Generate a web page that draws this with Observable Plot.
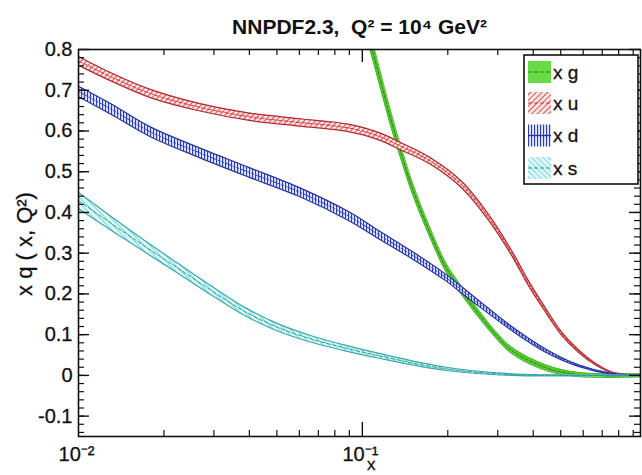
<!DOCTYPE html>
<html><head><meta charset="utf-8">
<script src="https://cdn.jsdelivr.net/npm/d3@7"></script>
<script src="https://cdn.jsdelivr.net/npm/@observablehq/plot@0.6"></script>
<style>
body{margin:0;background:#fff;}
#chart{width:642px;height:475px;}
</style></head><body><div id="chart"></div>
<script>
// ---- data ----
const titleText = "NNPDF2.3,  Q² = 10⁴ GeV²";
const yLabel = "x q ( x, Q²)";
const xLabel = "x";

const gX = [0.08, 0.09, 0.1, 0.1084, 0.1264, 0.1349, 0.150, 0.172, 0.197, 0.22, 0.257, 0.295, 0.336, 0.442, 0.577, 0.955];
const gY = [1.15, 1.0, 0.89, 0.80, 0.626, 0.56, 0.46, 0.355, 0.265, 0.215, 0.151, 0.10, 0.061, 0.019, 0.002, 0.0];
const gErr = [0.024, 0.023, 0.022, 0.021, 0.018, 0.016, 0.014, 0.012, 0.011, 0.010, 0.009, 0.008, 0.008, 0.007, 0.005, 0.004];

const uX = [0.01, 0.013, 0.0179, 0.0268, 0.04, 0.06, 0.0785, 0.09, 0.1, 0.1175, 0.135, 0.172, 0.224, 0.279, 0.336, 0.385, 0.442, 0.503, 0.577, 0.662, 0.754, 0.955];
const uY = [0.772, 0.733, 0.692, 0.658, 0.635, 0.621, 0.613, 0.607, 0.600, 0.584, 0.564, 0.528, 0.468, 0.387, 0.300, 0.226, 0.160, 0.103, 0.060, 0.028, 0.008, 0.0];
const uErr = [0.011, 0.010, 0.010, 0.009, 0.009, 0.009, 0.009, 0.009, 0.009, 0.009, 0.009, 0.008, 0.008, 0.007, 0.006, 0.006, 0.005, 0.004, 0.003, 0.002, 0.001, 0.0005];

const dX = [0.01, 0.013, 0.0179, 0.0268, 0.04, 0.06, 0.09, 0.1144, 0.15, 0.197, 0.22, 0.257, 0.336, 0.442, 0.577, 0.754, 0.955];
const dY = [0.697, 0.654, 0.598, 0.546, 0.498, 0.450, 0.390, 0.345, 0.295, 0.240, 0.214, 0.177, 0.115, 0.061, 0.024, 0.004, 0.0];
const dErr = [0.013, 0.013, 0.012, 0.012, 0.012, 0.011, 0.011, 0.010, 0.009, 0.008, 0.008, 0.007, 0.005, 0.004, 0.002, 0.001, 0.0005];

const sX = [0.01, 0.0131, 0.0172, 0.0224, 0.0293, 0.0385, 0.0503, 0.0656, 0.0862, 0.1144, 0.197, 0.336, 0.577, 0.955];
const sY = [0.429, 0.372, 0.316, 0.263, 0.209, 0.157, 0.118, 0.090, 0.068, 0.048, 0.016, 0.002, 0.0, 0.0];
const sErr = [0.02, 0.017, 0.014, 0.012, 0.011, 0.010, 0.009, 0.008, 0.007, 0.006, 0.004, 0.002, 0.001, 0.0005];

const yMajor = [-0.1, 0, 0.1, 0.2, 0.3, 0.4, 0.5, 0.6, 0.7, 0.8];
const yMajorLabels = ["-0.1", "0", "0.1", "0.2", "0.3", "0.4", "0.5", "0.6", "0.7", "0.8"];
const yMinor = d3.range(-0.14, 0.8, 0.02).map(v => +v.toFixed(2));
const xMinor = [0.02, 0.03, 0.04, 0.05, 0.06, 0.07, 0.08, 0.09, 0.2, 0.3, 0.4, 0.5, 0.6, 0.7, 0.8, 0.9];
const xMajor = [0.1];
const xLabelTicks = [0.01, 0.1];
const xLabelTexts = ["10⁻²", "10⁻¹"];

const legendNames = ["x g", "x u", "x d", "x s"];

// ---- build ----
const rows = (xs, ys, es) => xs.map((x, i) => ({x, y: ys[i], lo: ys[i] - es[i], hi: ys[i] + es[i]}));
const G = rows(gX, gY, gErr), U = rows(uX, uY, uErr), D = rows(dX, dY, dErr), S = rows(sX, sY, sErr);

const W = 642, H = 475, mL = 78, mR = 2, mT = 49, mB = 39;
const iW = W - mL - mR, iH = H - mT - mB;
const curve = "catmull-rom";
const font = "'Liberation Sans', Arial, Helvetica, sans-serif";

function band(data, fill, edge, center, dash, ew) {
  return [
    Plot.areaY(data, {x: "x", y1: "lo", y2: "hi", fill, curve, clip: true}),
    Plot.lineY(data, {x: "x", y: "lo", stroke: edge, strokeWidth: ew, curve, clip: true}),
    Plot.lineY(data, {x: "x", y: "hi", stroke: edge, strokeWidth: ew, curve, clip: true}),
    Plot.lineY(data, {x: "x", y: "y", stroke: center, strokeWidth: 1, strokeDasharray: dash, curve, clip: true})
  ];
}

const svg = Plot.plot({
  width: W, height: H,
  marginLeft: mL, marginRight: mR, marginTop: mT, marginBottom: mB,
  x: {type: "log", domain: [0.01, 0.955], axis: null},
  y: {domain: [-0.15, 0.8], axis: null},
  style: {fontFamily: font, background: "white", color: "#111"},
  marks: [
    ...band(G, "#56cc30", "#48b828", "#2e7d1a", "3,2", 1),
    ...band(U, "url(#pat-u)", "#b3262b", "#d23a3a", "4,2", 1.2),
    ...band(D, "url(#pat-d)", "#2233a6", "#2a3cc0", "2,2", 1.2),
    ...band(S, "url(#pat-s)", "#3aa9aa", "#2a9a9a", "4,2", 1.2),
    // ticks
    Plot.tickY(yMajor, {y: d => d, insetRight: iW - 11, stroke: "#111", strokeWidth: 1.4}),
    Plot.tickY(yMinor, {y: d => d, insetRight: iW - 6, stroke: "#111", strokeWidth: 1.2}),
    Plot.tickY(yMajor, {y: d => d, insetLeft: iW - 11, stroke: "#111", strokeWidth: 1.4}),
    Plot.tickY(yMinor, {y: d => d, insetLeft: iW - 6, stroke: "#111", strokeWidth: 1.2}),
    Plot.tickX(xMinor, {x: d => d, insetTop: iH - 6, stroke: "#111", strokeWidth: 1.2}),
    Plot.tickX(xMajor, {x: d => d, insetTop: iH - 14, stroke: "#111", strokeWidth: 1.4}),
    Plot.tickX(xMinor, {x: d => d, insetBottom: iH - 6, stroke: "#111", strokeWidth: 1.2}),
    Plot.tickX(xMajor, {x: d => d, insetBottom: iH - 13, stroke: "#111", strokeWidth: 1.4}),
    Plot.frame({stroke: "#111", strokeWidth: 1.6}),
    // tick labels
    Plot.text(yMajor, {y: d => d, frameAnchor: "left", dx: -6, textAnchor: "end", text: (d, i) => yMajorLabels[i], fontSize: 20, fill: "#111", stroke: "#111", strokeWidth: 0.3}),
    Plot.text(xLabelTicks, {x: d => d, frameAnchor: "bottom", dy: 24, dx: -2, text: (d, i) => xLabelTexts[i], fontSize: 20, fill: "#111", stroke: "#111", strokeWidth: 0.3}),
    Plot.text([xLabel], {x: 0.1, frameAnchor: "bottom", dx: 9, dy: 33, text: d => d, fontSize: 17, fill: "#111", stroke: "#111", strokeWidth: 0.3}),
    Plot.text([titleText], {frameAnchor: "top", dy: -30, text: d => d, fontSize: 21, fontWeight: "bold", fill: "#111"})
  ]
});

// patterns
const defs = d3.select(svg).insert("defs", ":first-child");
const pu = defs.append("pattern").attr("id", "pat-u").attr("patternUnits", "userSpaceOnUse")
  .attr("width", 4).attr("height", 4).attr("patternTransform", "rotate(45)");
pu.append("rect").attr("width", 4).attr("height", 4).attr("fill", "#f7e4e4");
pu.append("line").attr("x1", 0).attr("y1", 0).attr("x2", 0).attr("y2", 4).attr("stroke", "#d73333").attr("stroke-width", 1.6);
const pd = defs.append("pattern").attr("id", "pat-d").attr("patternUnits", "userSpaceOnUse")
  .attr("width", 3).attr("height", 3);
pd.append("rect").attr("width", 3).attr("height", 3).attr("fill", "#e6e8fa");
pd.append("line").attr("x1", 0.5).attr("y1", 0).attr("x2", 0.5).attr("y2", 3).attr("stroke", "#2b3cc4").attr("stroke-width", 1.2);
const ps = defs.append("pattern").attr("id", "pat-s").attr("patternUnits", "userSpaceOnUse")
  .attr("width", 4).attr("height", 4).attr("patternTransform", "rotate(-45)");
ps.append("rect").attr("width", 4).attr("height", 4).attr("fill", "#e4f7f7");
ps.append("line").attr("x1", 0).attr("y1", 0).attr("x2", 0).attr("y2", 4).attr("stroke", "#55d5d8").attr("stroke-width", 1.6);

// y-axis title (placed beside the frame, centred on the 0.25 level like the reference)
d3.select(svg).append("text")
  .attr("transform", "translate(24,244) rotate(-90)")
  .attr("text-anchor", "middle").attr("dominant-baseline", "central")
  .attr("font-family", font).attr("font-size", 22)
  .attr("fill", "#111").attr("stroke", "#111").attr("stroke-width", 0.3)
  .text(yLabel);

// legend (layout box in the top-right corner of the frame)
const lg = d3.select(svg).append("g").attr("font-family", font).attr("text-anchor", "start");
lg.append("rect").attr("x", 524).attr("y", 55).attr("width", 114).attr("height", 129)
  .attr("fill", "white").attr("stroke", "#111").attr("stroke-width", 1.6);
const rowsY = [72, 103, 135.5, 168];
const swFill = ["#66dd44", "url(#pat-u)", "url(#pat-d)", "url(#pat-s)"];
const swLine = ["#2e7d1a", "#d23a3a", "#2233a6", "#2a9a9a"];
legendNames.forEach((name, i) => {
  const cy = rowsY[i];
  lg.append("rect").attr("x", 528).attr("y", cy - 11).attr("width", 23).attr("height", 22).attr("fill", swFill[i]);
  lg.append("line").attr("x1", 528).attr("x2", 551).attr("y1", cy).attr("y2", cy)
    .attr("stroke", swLine[i]).attr("stroke-width", i === 2 ? 1.4 : 1).attr("stroke-dasharray", i === 2 ? null : "4,2");
  lg.append("text").attr("x", 553).attr("y", cy).attr("dy", "0.35em").attr("font-size", 19)
    .attr("fill", "#111").attr("stroke", "#111").attr("stroke-width", 0.3).attr("text-anchor", "start").text(name);
});

document.getElementById("chart").appendChild(svg);
</script></body></html>
